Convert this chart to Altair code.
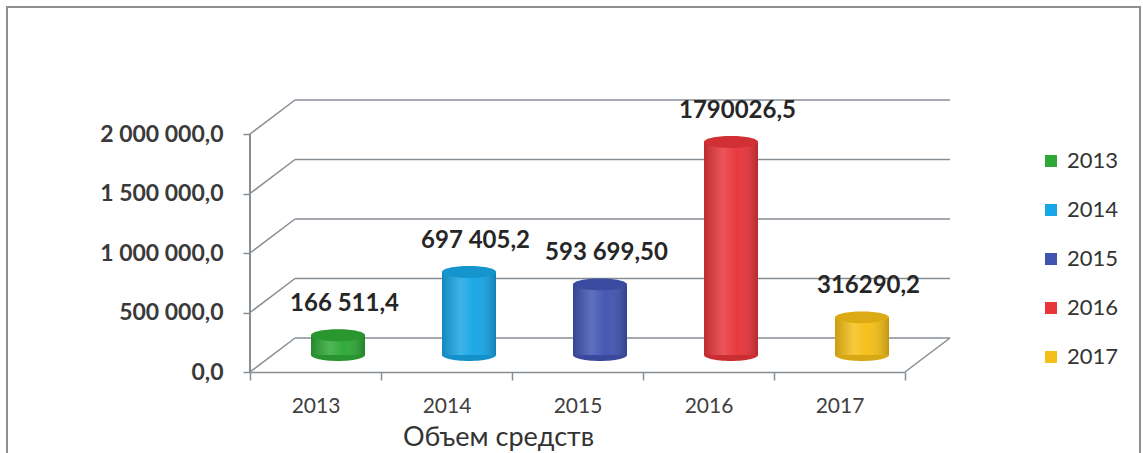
import altair as alt
import pandas as pd

# ---- data ----
years = ["2013", "2014", "2015", "2016", "2017"]
values = [166511.4, 697405.2, 593699.5, 1790026.5, 316290.2]
value_labels = ["166 511,4", "697 405,2", "593 699,50", "1790026,5", "316290,2"]
colors = ["#2ea836", "#17a6e6", "#4254b2", "#e8353a", "#f5bf17"]
y_ticks = [0, 500000, 1000000, 1500000, 2000000]
y_tick_labels = ["0,0", "500 000,0", "1 000 000,0", "1 500 000,0", "2 000 000,0"]
axis_title = "Объем средств"

# ---- layout / style ----
FONT = "Lato, 'Open Sans', 'DejaVu Sans', sans-serif"
W, H = 655, 238
DX, DY = 45, 34           # 3D depth offset in pixels
YMAX = 2000000
depth_units = DY * YMAX / H
GRID = "#868e94"
CYL_W = 54
ELLIPSE = "M-1,0 A1,0.22 0 1,1 1,0 A1,0.22 0 1,1 -1,0 Z"

df = pd.DataFrame({"year": years, "value": values, "label": value_labels})
grid_df = pd.DataFrame({"v": y_ticks})

yscale = alt.Scale(domain=[0, YMAX], nice=False, zero=True)
xscale = alt.Scale(domain=years, paddingInner=0, paddingOuter=0)

label_expr = " : ".join(f"datum.value == {v} ? '{l}'" for v, l in zip(y_ticks, y_tick_labels)) + " : ''"

y_axis = alt.Axis(
    values=y_ticks, labelExpr=label_expr, labelFontSize=23, labelFont=FONT,
    labelFontWeight="bold", labelColor="#3a3a3a", labelPadding=20,
    tickSize=7, tickColor=GRID, tickWidth=1.5, domain=False, grid=False,
    title=None,
)


def ypos(field):
    return alt.Y(field, scale=yscale, axis=y_axis, title=None)


X = alt.X(
    "year:N",
    scale=xscale,
    title=axis_title,
    axis=alt.Axis(
        labelAngle=0, labelFontSize=21, labelFont=FONT, labelColor="#404040",
        labelPadding=15, tickBand="extent", tickSize=8, tickColor=GRID, tickWidth=1.5,
        domainColor=GRID, domainWidth=1.5, titleFontSize=27, titleFont=FONT,
        titleFontWeight="normal", titleColor="#333333",
        titleX=248, titleY=65, titleAlign="center", titleBaseline="middle",
    ),
)
color_scale = alt.Scale(domain=years, range=colors)
color = alt.Color(
    "year:N",
    scale=color_scale,
    legend=alt.Legend(
        title=None, orient="none", legendX=790, legendY=16, symbolType="square",
        symbolSize=144, labelFontSize=22, labelFont=FONT, labelColor="#333333",
        rowPadding=27, labelOffset=5, padding=0, symbolStrokeWidth=0,
    ),
)

# ---- 3D walls ----
base_grid = alt.Chart(grid_df).transform_calculate(vb=f"datum.v + {depth_units}")
back_lines = base_grid.mark_rule(color=GRID, strokeWidth=1.5).encode(
    x=alt.value(DX), x2=alt.value(W + DX), y=ypos("vb:Q"),
)
side_lines = base_grid.mark_rule(color=GRID, strokeWidth=1.5).encode(
    x=alt.value(0), x2=alt.value(DX), y=ypos("v:Q"), y2="vb:Q",
)
floor_edge = base_grid.transform_filter("datum.v == 0").mark_rule(color=GRID, strokeWidth=1.5).encode(
    x=alt.value(W), x2=alt.value(W + DX), y=ypos("v:Q"), y2="vb:Q",
)
# front vertical axis line along the plot's left edge
y_line = alt.Chart(pd.DataFrame({"a": [0]})).mark_rule(color=GRID, strokeWidth=2).encode(
    x=alt.value(0), x2=alt.value(0), y=alt.value(0), y2=alt.value(H),
)

# ---- cylinders ----
base = alt.Chart(df).transform_calculate(zero="0")
pt = dict(shape=ELLIPSE, size=CYL_W ** 2, filled=True, opacity=1, xOffset=DX / 2, yOffset=-DY / 2)
bottom_ell = base.mark_point(**pt).encode(
    x=X, y=ypos("zero:Q"), color=alt.Color("year:N", scale=color_scale),
)
bottom_shade = base.mark_point(color="rgba(0,0,0,0.12)", **pt).encode(x=X, y=ypos("zero:Q"))
bars = base.mark_bar(width=CYL_W, xOffset=DX / 2, yOffset=-DY / 2, y2Offset=-DY / 2).encode(
    x=X, y=ypos("value:Q"), y2="zero:Q", color=color,
)
shade = base.mark_bar(
    width=CYL_W, xOffset=DX / 2, yOffset=-DY / 2, y2Offset=-DY / 2,
    fill=alt.Gradient(
        gradient="linear", x1=0, x2=1, y1=0, y2=0,
        stops=[
            alt.GradientStop(offset=0, color="rgba(0,0,0,0.18)"),
            alt.GradientStop(offset=0.35, color="rgba(255,255,255,0.16)"),
            alt.GradientStop(offset=0.6, color="rgba(255,255,255,0.02)"),
            alt.GradientStop(offset=1, color="rgba(0,0,0,0.22)"),
        ],
    ),
).encode(x=X, y=ypos("value:Q"), y2="zero:Q")
top_ell = base.mark_point(**pt).encode(
    x=X, y=ypos("value:Q"), color=alt.Color("year:N", scale=color_scale),
)
top_shade = base.mark_point(color="rgba(0,0,0,0.10)", **pt).encode(x=X, y=ypos("value:Q"))
texts = base.mark_text(dx=29, dy=-48, fontSize=24, fontWeight="bold", font=FONT, color="#262626").encode(
    x=X, y=ypos("value:Q"), text="label:N",
)

frame = alt.Chart(pd.DataFrame({"a": [0]})).mark_rect(filled=False, stroke="#8f8f8f", strokeWidth=2).encode(
    x=alt.value(-243), x2=alt.value(890), y=alt.value(-127), y2=alt.value(340),
)

chart = alt.layer(
    frame, back_lines, side_lines, floor_edge, y_line,
    bottom_ell, bottom_shade, bars, shade, top_ell, top_shade, texts,
).properties(
    width=W, height=H,
    autosize=alt.AutoSizeParams(type="none"),
    padding={"left": 250, "top": 134, "right": 238, "bottom": 81},
    background="white",
).configure_view(stroke=None)

chart.save("out.html", embed_options={"renderer": "svg", "actions": False})
